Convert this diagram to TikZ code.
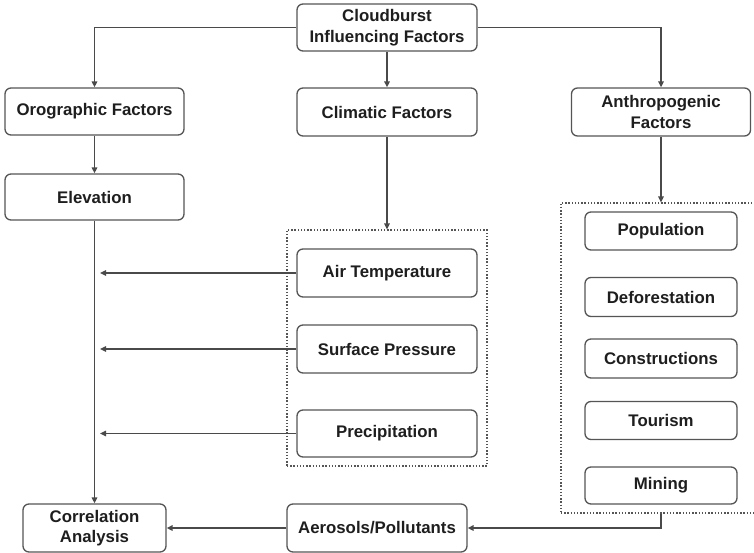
\documentclass[tikz,border=0pt]{standalone}
\usepackage{fontspec}
\setmainfont{Liberation Sans}
\usetikzlibrary{arrows.meta}
\definecolor{boxline}{HTML}{555555}
\definecolor{txt}{HTML}{1E1E1E}
\definecolor{conn}{HTML}{4A4A4A}
\tikzset{
  box/.style={draw=boxline, line width=1.3pt, rounded corners=6pt, fill=white,
    align=center, inner sep=0pt, text=txt,
    font=\fontsize{16.8}{20.5}\selectfont\bfseries},
  dotbox/.style={draw=boxline, line width=1.1pt, dash pattern=on 1.4pt off 1.8pt, inner sep=0pt},
  conn/.style={draw=conn, line width=1.4pt, -{Triangle[length=6pt,width=5.5pt]}},
  plain/.style={draw=conn, line width=1.4pt}
}
\begin{document}
\begin{tikzpicture}[x=1pt,y=-1pt]
\useasboundingbox (0,0) rectangle (754,553);
% dotted groups
\node[dotbox, minimum width=200pt, minimum height=236pt] (cdot) at (387,348) {};
\node[dotbox, minimum width=219pt, minimum height=310pt] (adot) at (670.5,358) {};
% top
\node[box, minimum width=180pt, minimum height=47pt] (cb) at (387,27.5) {Cloudburst\\Influencing Factors};
\node[box, minimum width=179pt, minimum height=47pt] (oro) at (94.5,111.5) {Orographic Factors};
\node[box, minimum width=180pt, minimum height=48pt] (clim) at (387,112) {Climatic Factors};
\node[box, minimum width=179pt, minimum height=48pt] (anth) at (661,112) {Anthropogenic\\Factors};
\node[box, minimum width=179pt, minimum height=46pt] (elev) at (94.5,197) {Elevation};
% climatic children
\node[box, minimum width=180pt, minimum height=48pt] (at) at (387,273) {Air Temperature};
\node[box, minimum width=180pt, minimum height=48pt] (sp) at (387,349) {Surface Pressure};
\node[box, minimum width=180pt, minimum height=47pt] (pr) at (387,433.5) {Precipitation};
% anthropogenic children
\node[box, minimum width=152pt, minimum height=38pt] (pop) at (661,231) {Population};
\node[box, minimum width=152pt, minimum height=39pt] (def) at (661,297) {Deforestation};
\node[box, minimum width=152pt, minimum height=39pt] (con) at (661,358.5) {Constructions};
\node[box, minimum width=152pt, minimum height=38pt] (tou) at (661,420.5) {Tourism};
\node[box, minimum width=152pt, minimum height=37pt] (min) at (661,485.5) {Mining};
% bottom
\node[box, minimum width=143pt, minimum height=48pt] (corr) at (94.5,528) {Correlation\\Analysis};
\node[box, minimum width=180pt, minimum height=48pt] (aer) at (377,528) {Aerosols/Pollutants};
% free ends of the side arrows
\coordinate (atend) at (100,273);
\coordinate (spend) at (100,349);
\coordinate (prend) at (100,433.5);
% connectors
\draw[conn] (cb.west) -| (oro.north);
\draw[conn] (cb.east) -| (anth.north);
\draw[conn] (cb.south) -- (clim.north);
\draw[conn] (oro.south) -- (elev.north);
\draw[conn] (clim.south) -- (cdot.north);
\draw[conn] (anth.south) -- (anth.south |- adot.north);
\draw[conn] (elev.south) -- (corr.north);
\draw[conn] (at.west) -- (atend);
\draw[conn] (sp.west) -- (spend);
\draw[conn] (pr.west) -- (prend);
\draw[conn] (anth.south |- adot.south) |- (aer.east);
\draw[conn] (aer.west) -- (corr.east);
\end{tikzpicture}
\end{document}
